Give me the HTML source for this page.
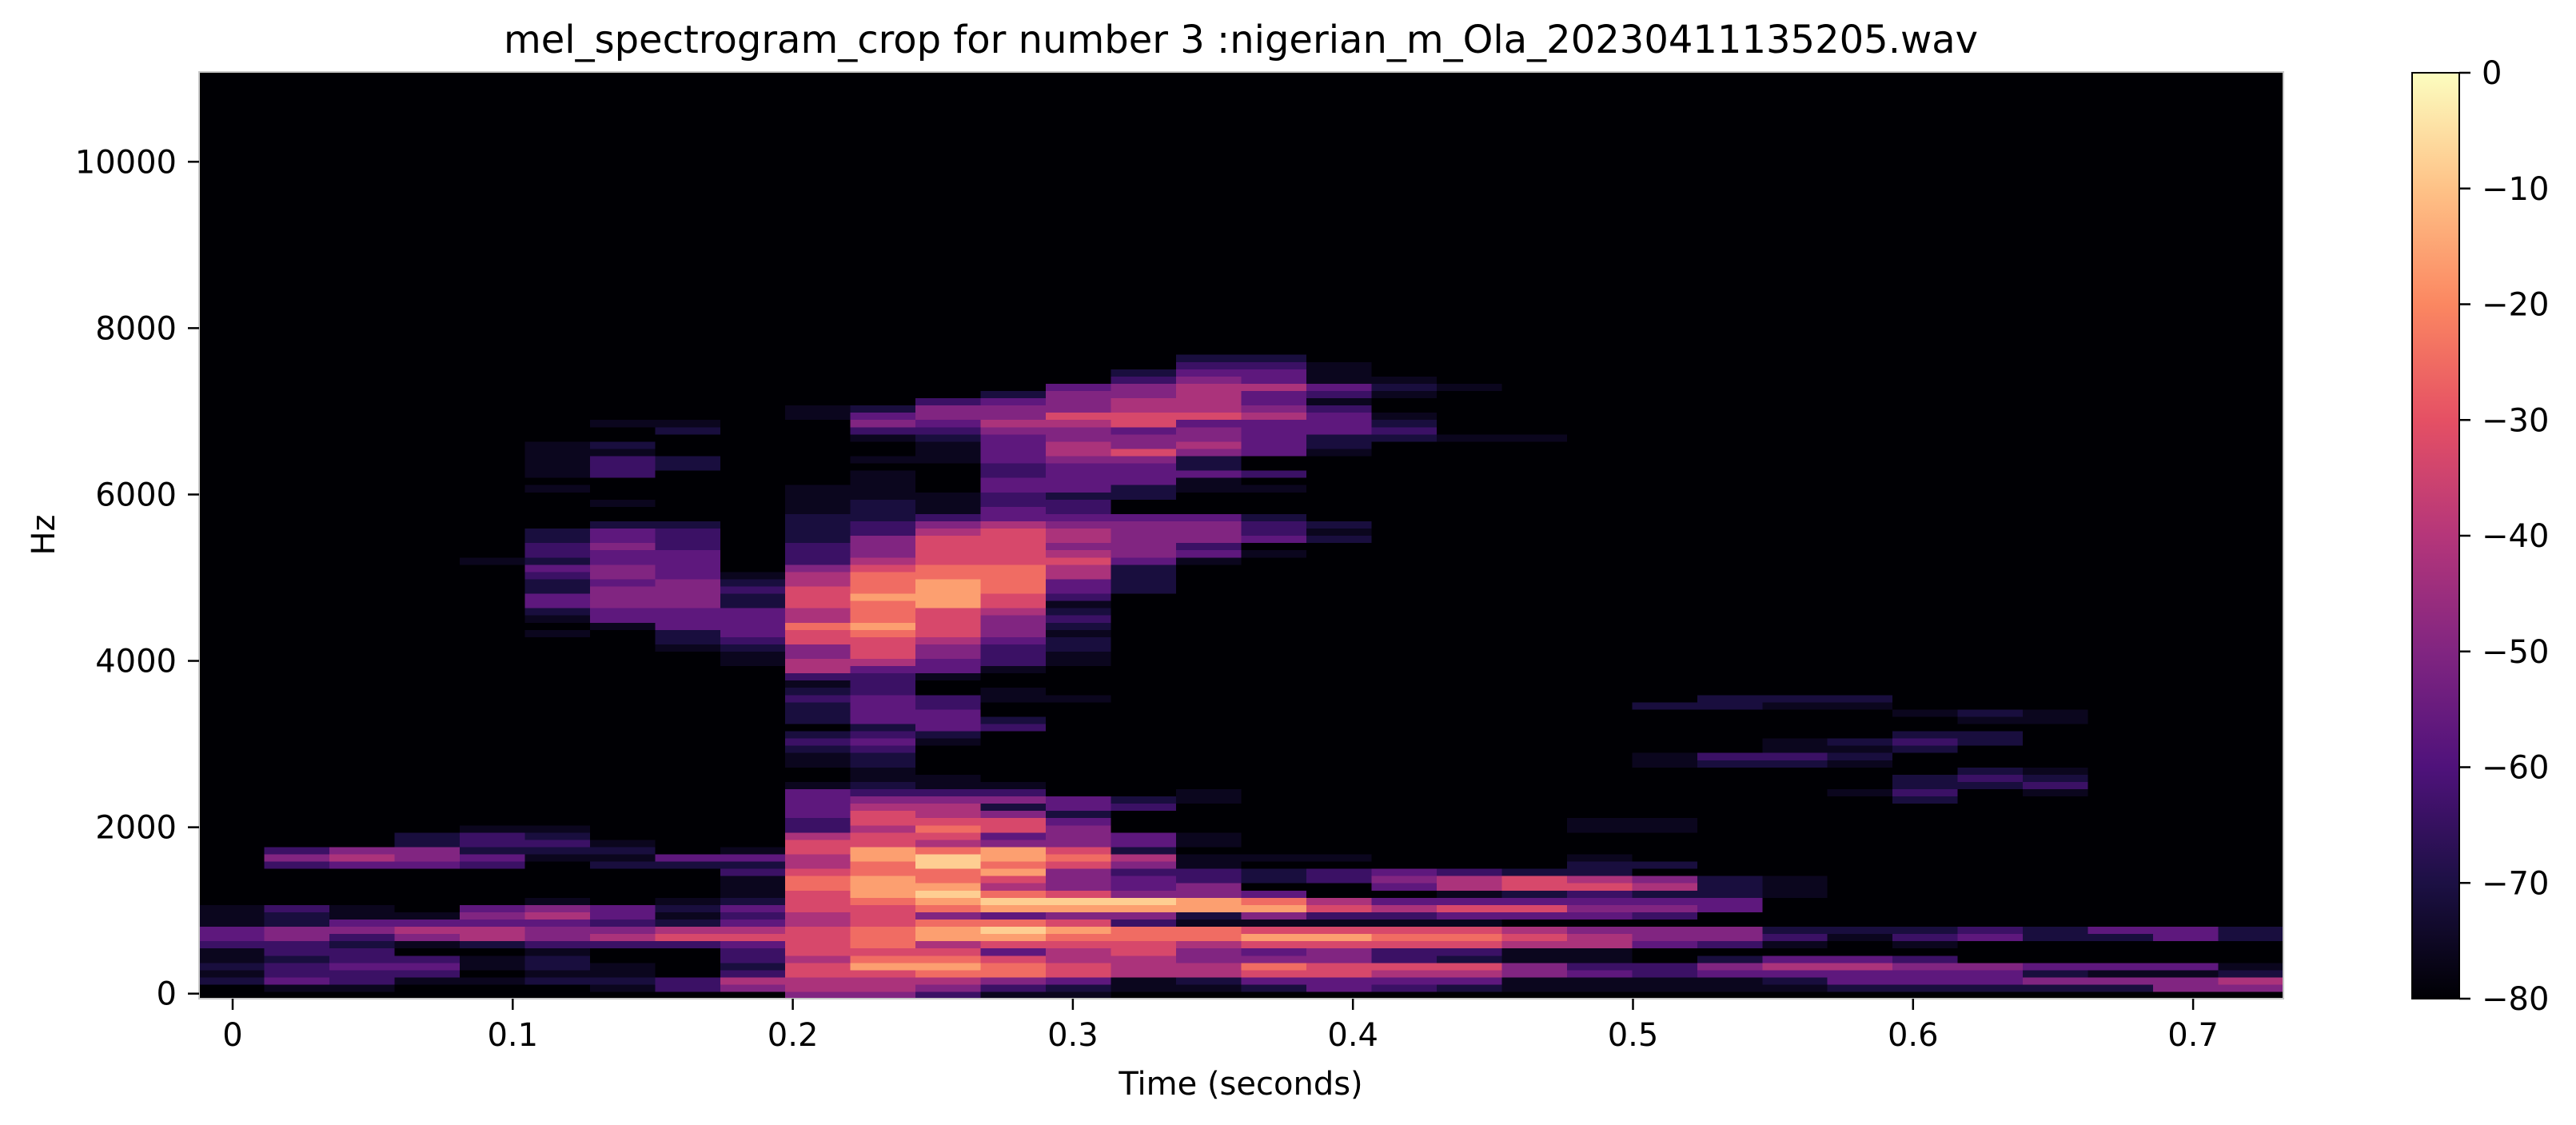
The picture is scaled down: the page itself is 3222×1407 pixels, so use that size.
<!DOCTYPE html>
<html><head><meta charset="utf-8"><title>mel spectrogram</title>
<style>
html,body{margin:0;padding:0;background:#fff;}
svg{display:block;font-family:"DejaVu Sans","Liberation Sans",sans-serif;}
</style></head>
<body>
<svg id="chart" width="3222" height="1407" viewBox="0 0 3222 1407" xmlns="http://www.w3.org/2000/svg">
  <defs>
    <linearGradient id="magmaGrad" x1="0" y1="1" x2="0" y2="0">
      <stop offset="0" stop-color="#000004"/>
      <stop offset="0.125" stop-color="#1c1044"/>
      <stop offset="0.25" stop-color="#4f127b"/>
      <stop offset="0.375" stop-color="#812581"/>
      <stop offset="0.5" stop-color="#b5367a"/>
      <stop offset="0.625" stop-color="#e55064"/>
      <stop offset="0.75" stop-color="#fb8761"/>
      <stop offset="0.875" stop-color="#fec287"/>
      <stop offset="1" stop-color="#fcfdbf"/>
    </linearGradient>
  </defs>
  <text x="1552" y="66" font-size="48" text-anchor="middle" fill="#000">mel_spectrogram_crop for number 3 :nigerian_m_Ola_20230411135205.wav</text>
  <g id="heatmap" shape-rendering="crispEdges"></g>
  <rect x="249" y="90" width="2607" height="1159" fill="none" stroke="#c8c8c8" stroke-width="2"/>
  <g id="xaxis"></g>
  <g id="yaxis"></g>
  <text x="1552" y="1369" font-size="40" text-anchor="middle" fill="#000">Time (seconds)</text>
  <text x="0" y="0" font-size="40" text-anchor="middle" fill="#000" transform="translate(68,669) rotate(-90)">Hz</text>
  <g>
    <rect x="3017" y="91" width="59" height="1158" fill="url(#magmaGrad)" stroke="#000" stroke-width="2"/>
    <g id="cbticks"></g>
  </g>
</svg>
<script>
// ---- data ----
// dB value for each intensity level code 0..9,a
const levelDb = [-80, -76, -71, -64, -57, -50, -42, -33, -25, -16, -8];
// one string per time frame: "startRow:levelcodes|..." (rows counted from bottom mel bin)
const melLevels = [
"0:0021211344111",
"0:0143323355223|18:353",
"0:0133433235411|18:465",
"0:0013430156410|18:45522",
"0:0010110266454|18:342331|60:1",
"0:00212213554651|19:12321|50:101244223423322|70:1011111",
"0:0121100365344|18:2121|51:14455545544544200100033312001",
"0:03300003762121|18:24|48:122444555544443332|73:22|78:21",
"0:056323347643421113241|46:1123444422321",
"0:5667767777667778876677633444410011232022232136655778667776653332222111100000000011",
"0:5667987888777899988997767765321122343244443334677789888988876555332221111010013542",
"0:35689876998589a988aa867876653110000124443300144556777799998877776531110000111234553",
"0:135887479a849a8679899547752531000000032001100133345556778888777776443344334444565542",
"0:1247766789759a75557875554244000000000000010000112212321344667656654332444456655675554",
"0:0116667788359a5443562440003200|56:2222455555400224445755477665532",
"0:01266556881299553311011000011|60:14355540001142256554766665432",
"0:02478547971598402201|61:1043320001030044444654464432",
"0:04477557971376003301|63:2120000000001224443134111",
"0:034673378713640454|77:232100121",
"0:024672378714741663|77:1|84:1",
"0:011551167604742772|77:1",
"0:0114311665045437622100011",
"0:0113300455035426502|23:11|32:11|40:2",
"0:01145203550044222|32:23|40:22",
"0:01246401320000111|32:2311|40:12",
"0:0244640012|28:1|32:1212|40:12",
"0:0244530132|27:2322|34:232|39:1",
"0:0244500043|29:232|35:22|38:12",
"0:0252400022|28:1321|38:11",
"0:0251400024",
"0:0551400044",
"0:0562100022"
];
const nMels = 128;
const hopSeconds = 512 / 22050;
const xTickValues = [0, 0.1, 0.2, 0.3, 0.4, 0.5, 0.6, 0.7];
const xTickLabels = ["0", "0.1", "0.2", "0.3", "0.4", "0.5", "0.6", "0.7"];
const yTickValues = [0, 2000, 4000, 6000, 8000, 10000];
const yTickLabels = ["0", "2000", "4000", "6000", "8000", "10000"];
const cbTickValues = [0, -10, -20, -30, -40, -50, -60, -70, -80];
const cbTickLabels = ["0", "\u221210", "\u221220", "\u221230", "\u221240", "\u221250", "\u221260", "\u221270", "\u221280"];

// ---- scales ----
const NS = "http://www.w3.org/2000/svg";
const plotLeft = 249, plotRight = 2856, plotTop = 90, plotBottom = 1249;
function xScale(t) { return 291 + t * 3503; }
function xFrame(c) { return plotLeft + c * (plotRight - plotLeft) / melLevels.length; }
function yHz(v) { return 1242.7 - v * 0.10404; }
function yRow(r) { return plotBottom - r * (plotBottom - plotTop) / nMels; }
function cbScale(db) { return 1249 - (db + 80) / 80 * 1158; }
const magmaStops = ["#000004","#1c1044","#4f127b","#812581","#b5367a","#e55064","#fb8761","#fec287","#fcfdbf"];
function hex(c){return [parseInt(c.substr(1,2),16),parseInt(c.substr(3,2),16),parseInt(c.substr(5,2),16)];}
function magma(n) {
  n = Math.max(0, Math.min(1, n));
  const p = n * 8, i = Math.min(7, Math.floor(p)), f = p - i;
  const a = hex(magmaStops[i]), b = hex(magmaStops[i + 1]);
  return "rgb(" + a.map((v, k) => Math.round(v + (b[k] - v) * f)).join(",") + ")";
}
function mk(tag, attrs) {
  const e = document.createElementNS(NS, tag);
  for (const k in attrs) e.setAttribute(k, attrs[k]);
  return e;
}

// ---- heatmap ----
const heat = document.getElementById("heatmap");
melLevels.forEach((spec, c) => {
  const levels = new Array(nMels).fill(0);
  spec.split("|").forEach(seg => {
    const [s, codes] = seg.split(":");
    const start = parseInt(s, 10);
    const clean = codes.replace(/\s/g, "");
    for (let i = 0; i < clean.length; i++) {
      const v = parseInt(clean[i], 16);
      if (start + i < nMels) levels[start + i] = isNaN(v) ? 0 : Math.min(10, v);
    }
  });
  const x0 = xFrame(c), x1 = xFrame(c + 1);
  for (let r = 0; r < nMels; r++) {
    const db = levelDb[levels[r]];
    const y0 = yRow(r + 1), y1 = yRow(r);
    const rect = mk("rect", {x: x0.toFixed(2), y: y0.toFixed(2), width: (x1 - x0 + 0.6).toFixed(2), height: (y1 - y0 + 0.6).toFixed(2), fill: magma((db + 80) / 80)});
    
    
    heat.appendChild(rect);
  }
});

// ---- x axis ----
const xa = document.getElementById("xaxis");
xTickValues.forEach((t, i) => {
  const x = xScale(t);
  const ln = mk("line", {x1: x, y1: plotBottom, x2: x, y2: plotBottom + 14, stroke: "#000", "stroke-width": 2.5});
  
  
  xa.appendChild(ln);
  const tx = mk("text", {x: x, y: 1308, "font-size": 40, "text-anchor": "middle", fill: "#000"});
  
  
  tx.textContent = xTickLabels[i];
  xa.appendChild(tx);
});

// ---- y axis ----
const ya = document.getElementById("yaxis");
yTickValues.forEach((v, i) => {
  const y = yHz(v);
  const ln = mk("line", {x1: 235, y1: y, x2: 249, y2: y, stroke: "#000", "stroke-width": 2.5});
  
  
  ya.appendChild(ln);
  const tx = mk("text", {x: 221, y: y + 14, "font-size": 40, "text-anchor": "end", fill: "#000"});
  
  
  tx.textContent = yTickLabels[i];
  ya.appendChild(tx);
});

// ---- colorbar ticks ----
const cb = document.getElementById("cbticks");
cbTickValues.forEach((v, i) => {
  const y = cbScale(v);
  const ln = mk("line", {x1: 3076, y1: y, x2: 3090, y2: y, stroke: "#000", "stroke-width": 2.5});
  
  
  cb.appendChild(ln);
  const tx = mk("text", {x: 3104, y: y + 14, "font-size": 40, "text-anchor": "start", fill: "#000"});
  
  
  tx.textContent = cbTickLabels[i];
  cb.appendChild(tx);
});
</script>
</body></html>
